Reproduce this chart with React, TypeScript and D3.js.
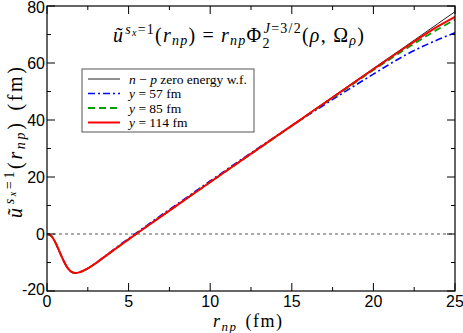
import React, { useRef, useEffect } from "react";
import * as d3 from "d3";

const W = 463;
const H = 333;
const margin = { left: 47, right: 8, top: 6, bottom: 42 };

// r_np grid (fm)
const rValues = [0, 0.25, 0.5, 0.75, 1, 1.25, 1.5, 1.75, 2, 2.5, 3, 3.5, 4, 5, 6, 7, 8, 9, 10, 12, 14, 15, 16, 18, 20, 22, 24, 25];
// zero energy n-p wave function
const zeroEnergy = [0, -0.6, -2.8, -6.0, -9.2, -11.8, -13.3, -13.7, -13.4, -12.1, -10.2, -8.1, -6.0, -1.9, 2.2, 6.2, 10.2, 14.2, 18.2, 26.2, 34.1, 38.1, 42.1, 50.1, 58.1, 66.0, 74.0, 78.0];
const y57 = [0, -0.6, -2.8, -6.0, -9.2, -11.8, -13.3, -13.7, -13.4, -12.1, -10.2, -8.0, -5.8, -1.6, 2.5, 6.6, 10.6, 14.6, 18.6, 26.5, 34.2, 38.0, 41.7, 49.0, 56.1, 62.9, 68.3, 70.6];
const y85 = [0, -0.6, -2.8, -6.0, -9.2, -11.8, -13.3, -13.7, -13.4, -12.1, -10.2, -8.1, -6.0, -1.9, 2.2, 6.2, 10.2, 14.2, 18.2, 26.1, 34.0, 37.9, 41.9, 49.7, 57.5, 65.0, 72.0, 75.2];
const y114 = [0, -0.6, -2.8, -6.0, -9.2, -11.8, -13.3, -13.7, -13.4, -12.1, -10.2, -8.1, -6.0, -1.9, 2.2, 6.2, 10.2, 14.2, 18.2, 26.2, 34.1, 38.0, 42.0, 49.9, 57.8, 65.6, 73.0, 76.2];

const xTicks = [0, 5, 10, 15, 20, 25];
const xMinor = [2.5, 7.5, 12.5, 17.5, 22.5];
const yTicks = [-20, 0, 20, 40, 60, 80];
const yMinor = [-10, 10, 30, 50, 70];

const series = [
  { label: "zero", values: zeroEnergy, color: "#222", width: 1, dash: "" },
  { label: "57", values: y57, color: "#0000ff", width: 1.6, dash: "7,3,2,3" },
  { label: "85", values: y85, color: "#00a000", width: 1.8, dash: "7,4" },
  { label: "114", values: y114, color: "#ff0000", width: 2, dash: "" },
];

const App = () => {
  const svgRef = useRef<SVGGElement>(null);

  useEffect(() => {
    const svg = d3.select(svgRef.current);
    svg.selectAll("*").remove();
    const x = d3.scaleLinear().domain([0, 25]).range([margin.left, W - margin.right]);
    const y = d3.scaleLinear().domain([-20, 80]).range([H - margin.bottom, margin.top]);
    const x0 = margin.left, x1 = W - margin.right, y0 = H - margin.bottom, y1 = margin.top;

    // zero line
    svg.append("line")
      .attr("x1", x(0)).attr("x2", x(25))
      .attr("y1", y(0)).attr("y2", y(0))
      .attr("stroke", "#555").attr("stroke-width", 1).attr("stroke-dasharray", "3,3");

    const clip = svg.append("clipPath").attr("id", "plotclip");
    clip.append("rect").attr("x", x0).attr("y", y1).attr("width", x1 - x0).attr("height", y0 - y1);

    const line = d3.line<number>()
      .x((_, i) => x(rValues[i]))
      .y((d) => y(d))
      .curve(d3.curveMonotoneX);

    series.forEach((s) => {
      svg.append("path")
        .datum(s.values)
        .attr("clip-path", "url(#plotclip)")
        .attr("fill", "none")
        .attr("stroke", s.color)
        .attr("stroke-width", s.width)
        .attr("stroke-dasharray", s.dash)
        .attr("d", line);
    });

    // frame
    svg.append("rect")
      .attr("x", x0).attr("y", y1).attr("width", x1 - x0).attr("height", y0 - y1)
      .attr("fill", "none").attr("stroke", "#000").attr("stroke-width", 1.2);

    const tk = svg.append("g").attr("stroke", "#000").attr("stroke-width", 1);
    xTicks.forEach((t) => {
      tk.append("line").attr("x1", x(t)).attr("x2", x(t)).attr("y1", y0).attr("y2", y0 - 8);
      tk.append("line").attr("x1", x(t)).attr("x2", x(t)).attr("y1", y1).attr("y2", y1 + 8);
    });
    xMinor.forEach((t) => {
      tk.append("line").attr("x1", x(t)).attr("x2", x(t)).attr("y1", y0).attr("y2", y0 - 4);
      tk.append("line").attr("x1", x(t)).attr("x2", x(t)).attr("y1", y1).attr("y2", y1 + 4);
    });
    yTicks.forEach((t) => {
      tk.append("line").attr("x1", x0).attr("x2", x0 + 8).attr("y1", y(t)).attr("y2", y(t));
      tk.append("line").attr("x1", x1).attr("x2", x1 - 8).attr("y1", y(t)).attr("y2", y(t));
    });
    yMinor.forEach((t) => {
      tk.append("line").attr("x1", x0).attr("x2", x0 + 4).attr("y1", y(t)).attr("y2", y(t));
      tk.append("line").attr("x1", x1).attr("x2", x1 - 4).attr("y1", y(t)).attr("y2", y(t));
    });

    const lab = svg.append("g").attr("font-family", "Liberation Sans, Arial, sans-serif").attr("font-size", 16).attr("fill", "#000");
    xTicks.forEach((t) => {
      lab.append("text").attr("x", x(t)).attr("y", y0 + 16).attr("text-anchor", "middle").text(t);
    });
    yTicks.forEach((t) => {
      lab.append("text").attr("x", x0 - 2).attr("y", Math.max(y(t) + (t === -20 ? 4 : 6), 13)).attr("text-anchor", "end").text(t);
    });
  }, []);

  const serif = "'Liberation Serif', 'DejaVu Serif', serif";
  const legendRows = [
    { s: series[0], text: <><tspan fontStyle="italic">n</tspan> − <tspan fontStyle="italic">p</tspan> zero energy w.f.</> },
    { s: series[1], text: <><tspan fontStyle="italic">y</tspan> = 57 fm</> },
    { s: series[2], text: <><tspan fontStyle="italic">y</tspan> = 85 fm</> },
    { s: series[3], text: <><tspan fontStyle="italic">y</tspan> = 114 fm</> },
  ];

  return (
    <svg width={W} height={H} style={{ position: "absolute", left: 0, top: 0, background: "#fff" }}>
      <g ref={svgRef} />
      {/* title formula */}
      <text x={113} y={42} fontFamily={serif} fontSize={20} textLength={251} lengthAdjust="spacing">
        <tspan fontStyle="italic">ũ</tspan>
        <tspan fontStyle="italic" fontSize={14} dy={-8} dx={1}>s</tspan>
        <tspan fontStyle="italic" fontSize={10} dy={2}>x</tspan>
        <tspan fontSize={14} dy={-2}>=1</tspan>
        <tspan dy={8}>(</tspan>
        <tspan fontStyle="italic">r</tspan>
        <tspan fontStyle="italic" fontSize={14} dy={3}>np</tspan>
        <tspan dy={-3}>)</tspan>
        <tspan dx={6}>=</tspan>
        <tspan dx={6} fontStyle="italic">r</tspan>
        <tspan fontStyle="italic" fontSize={14} dy={3}>np</tspan>
        <tspan dy={-3}>Φ</tspan>
        <tspan fontSize={14} dy={6}>2</tspan>
        <tspan fontSize={14} dx={-7} dy={-15} fontStyle="italic">J</tspan>
        <tspan fontSize={14} dy={0}>=3/2</tspan>
        <tspan dy={9}>(</tspan>
        <tspan fontStyle="italic">ρ</tspan>
        <tspan>, Ω</tspan>
        <tspan fontStyle="italic" fontSize={14} dy={3}>ρ</tspan>
        <tspan dy={-3}>)</tspan>
      </text>
      {/* legend */}
      <g>
        <rect x={82} y={69} width={172} height={63} fill="#fff" stroke="#555" strokeWidth={1} />
        {legendRows.map((r, i) => (
          <g key={i}>
            <line x1={88} x2={120} y1={79 + i * 14.5} y2={79 + i * 14.5} stroke={r.s.color} strokeWidth={r.s.width} strokeDasharray={r.s.dash} />
            <text x={129} y={83.5 + i * 14.5} fontFamily={serif} fontSize={13.5}>{r.text}</text>
          </g>
        ))}
      </g>
      {/* x label */}
      <text x={213} y={327} fontFamily={serif} fontSize={18} textLength={69} lengthAdjust="spacing">
        <tspan fontStyle="italic">r</tspan>
        <tspan fontStyle="italic" fontSize={13} dy={4}>np</tspan>
        <tspan dy={-4} dx={8}>(fm)</tspan>
      </text>
      {/* y label */}
      <text transform="translate(22,218) rotate(-90)" fontFamily={serif} fontSize={20} textLength={151} lengthAdjust="spacing">
        <tspan fontStyle="italic">ũ</tspan>
        <tspan fontStyle="italic" fontSize={14} dy={-8} dx={1}>s</tspan>
        <tspan fontStyle="italic" fontSize={10} dy={2}>x</tspan>
        <tspan fontSize={14} dy={-2}>=1</tspan>
        <tspan dy={8}>(</tspan>
        <tspan fontStyle="italic">r</tspan>
        <tspan fontStyle="italic" fontSize={14} dy={3}>np</tspan>
        <tspan dy={-3}>)</tspan>
        <tspan dx={10}>(fm)</tspan>
      </text>
    </svg>
  );
};

export default App;
